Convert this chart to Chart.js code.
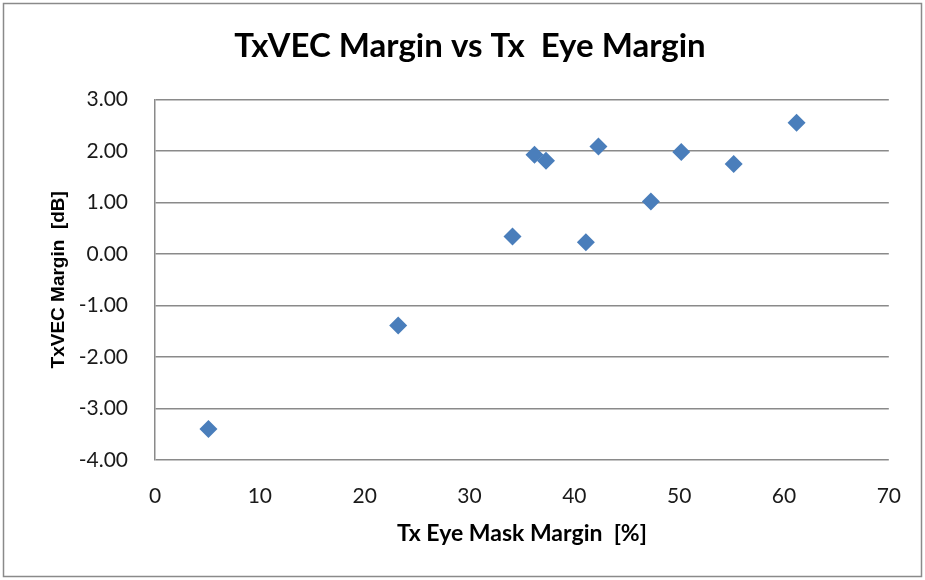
<!DOCTYPE html>
<html>
<head>
<meta charset="utf-8">
<script src="https://cdn.jsdelivr.net/npm/chart.js@4"></script>
<style>
  html, body { margin: 0; padding: 0; background: #fff; }
  #wrap { width: 925px; height: 580px; }
</style>
</head>
<body>
<div id="wrap"><canvas id="myChart" width="925" height="580"></canvas></div>
<script>
// values
var eyeMargin = [5.1, 23.2, 34.1, 36.2, 37.3, 41.1, 42.3, 47.3, 50.2, 55.2, 61.2];
var vecMargin = [-3.40, -1.39, 0.34, 1.93, 1.81, 0.23, 2.09, 1.02, 1.98, 1.75, 2.55];
var xTicks = [0, 10, 20, 30, 40, 50, 60, 70];
var yTicks = [3, 2, 1, 0, -1, -2, -3, -4];

var points = eyeMargin.map(function (x, i) {
  return { x: x, y: vecMargin[i] };
});

var frame = {
  id: "frame",
  beforeDraw: function (chart) {
    var ctx = chart.ctx;
    ctx.save();
    ctx.fillStyle = "#ffffff";
    ctx.fillRect(0, 0, chart.width, chart.height);
    ctx.strokeStyle = "#8a8a8a";
    ctx.lineWidth = 1.5;
    ctx.strokeRect(3.5, 3.5, chart.width - 7, chart.height - 7);
    ctx.restore();
  },
};

var data = {
  datasets: [
    {
      label: "TxVEC Margin",
      data: points,
      pointStyle: "rectRot",
      pointRadius: 9,
      pointHoverRadius: 9,
      backgroundColor: "#4A7EBB",
      borderColor: "#4A7EBB",
      borderWidth: 0,
      showLine: false,
    },
  ],
};

var config = {
  type: "scatter",
  data,
  options: {
    responsive: false,
    animation: false,
    // left/right padding keeps the title centred where the original has it
    layout: { padding: { left: 49, right: 34, top: 0, bottom: 0 } },
    plugins: {
      legend: { display: false },
      tooltip: { enabled: false },
      title: {
        display: true,
        text: "TxVEC Margin vs Tx  Eye Margin",
        color: "#000",
        font: { family: "Lato", size: 33, weight: "bold", lineHeight: 1.2 },
        padding: { top: 27, bottom: 33 },
      },
    },
    scales: {
      x: {
        type: "linear",
        min: 0,
        max: 70,
        afterBuildTicks: function (scale) {
          scale.ticks = xTicks.map(function (v) { return { value: v }; });
        },
        afterFit: function (scale) { scale.height = 120; },
        grid: { display: false, drawTicks: false },
        border: { display: false },
        ticks: {
          color: "#1a1a1a",
          padding: 24,
          maxRotation: 0,
          font: { family: "Lato", size: 21 },
        },
        title: {
          display: true,
          text: "Tx Eye Mask Margin  [%]",
          color: "#000",
          font: { family: "Lato", size: 23, weight: "bold", lineHeight: 1.2 },
          padding: { top: 0, bottom: 33 },
        },
      },
      y: {
        type: "linear",
        min: -4,
        max: 3,
        afterBuildTicks: function (scale) {
          scale.ticks = yTicks.map(function (v) { return { value: v }; });
        },
        afterFit: function (scale) { scale.width = 106; },
        grid: { color: "#8a8a8a", lineWidth: 1.5, drawTicks: false },
        border: { display: true, color: "#8a8a8a", width: 1.5 },
        ticks: {
          color: "#1a1a1a",
          padding: 27,
          font: { family: "Lato", size: 21 },
          callback: function (v) { return Number(v).toFixed(2); },
        },
        title: {
          display: true,
          text: "TxVEC Margin  [dB]",
          color: "#000",
          font: { family: "Liberation Sans", size: 19, weight: "bold", lineHeight: 1.0 },
          padding: { top: 0, bottom: 0 },
        },
      },
    },
  },
  plugins: [frame],
};

var myChart = document.getElementById("myChart").getContext("2d");

var chart1 = new Chart(myChart, config);
</script>
</body>
</html>
